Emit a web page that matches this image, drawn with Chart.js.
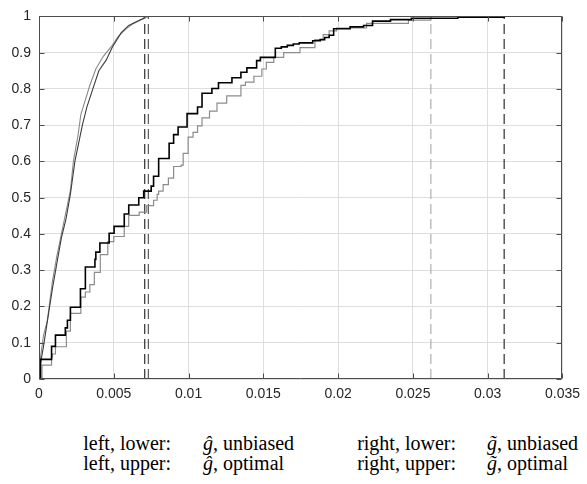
<!DOCTYPE html>
<html>
<head>
<meta charset="utf-8">
<script src="https://cdn.jsdelivr.net/npm/chart.js@4.4.1/dist/chart.umd.min.js"></script>
<style>
  body { margin: 0; background: #fff; }
  #wrap { position: relative; width: 587px; height: 484px; }
  #legend { position: absolute; left: 0; top: 433px; width: 587px;
            font-family: 'Liberation Serif', 'Times New Roman', serif; font-size: 20px; color: #000; }
  .row { position: relative; height: 20px; line-height: 20px; }
  .row span { position: absolute; white-space: nowrap; }
</style>
</head>
<body>
<div id="wrap">
  <canvas id="cdf" width="587" height="410"></canvas>
  <div id="legend"></div>
</div>
<script>
//------------------------------------------------------
// DATA
//------------------------------------------------------

// left pair (steep curves)
const leftDarkX  = [0, 0.00005, 0.0003, 0.0006, 0.0009, 0.0012, 0.0015, 0.0018, 0.0021, 0.0024, 0.0027, 0.0029, 0.0032, 0.0036, 0.0040, 0.0045, 0.0049, 0.0052, 0.0055, 0.0060, 0.0065, 0.0070, 0.00707];
const leftDarkY  = [0, 0.03,    0.09,   0.17,   0.25,   0.32,   0.39,   0.44,   0.51,   0.60,   0.66,   0.70,   0.75,   0.80,   0.85,   0.88,   0.915,  0.935,  0.955,  0.975,  0.985,  0.995,  1];
const leftLightX = [0, 0.0001, 0.0003, 0.00055, 0.0009, 0.0012, 0.0015, 0.0018, 0.0021, 0.0023, 0.0026, 0.0028, 0.0031, 0.0034, 0.0038, 0.0043, 0.0049, 0.0053, 0.0058, 0.0063, 0.0068, 0.0073];
const leftLightY = [0, 0.06,   0.12,   0.16,    0.27,   0.34,   0.40,   0.46,   0.52,   0.60,   0.67,   0.73,   0.77,   0.81,   0.855,  0.89,   0.92,   0.945,  0.965,  0.98,   0.99,   1];

// right pair (step curves)
const rightBlackX = [0, 0.0001, 0.00084, 0.0011, 0.00176, 0.0019, 0.0021, 0.00277, 0.0031, 0.00374, 0.0038, 0.00407, 0.00469, 0.00502, 0.0057, 0.0060, 0.00667, 0.0070, 0.0075, 0.00766, 0.0080, 0.0087, 0.0090, 0.0093, 0.0099, 0.0106, 0.0109, 0.01156, 0.0120, 0.0129, 0.0135, 0.0139, 0.01455, 0.0148, 0.0158, 0.0162, 0.0166, 0.0170, 0.0174, 0.0183, 0.0188, 0.0191, 0.0194, 0.0197, 0.0208, 0.0217, 0.0223, 0.0235, 0.0249, 0.0280, 0.0311];
const rightBlackY = [0, 0.054,  0.09,    0.121,  0.141,   0.162,  0.198,  0.249,   0.309,  0.33,    0.35,   0.375,   0.402,   0.421,   0.455,  0.48,   0.50,    0.518,  0.532,  0.559,   0.608,  0.650,  0.674,  0.695,  0.732,  0.75,   0.788,  0.801,   0.817,  0.831,  0.846,  0.858,  0.878,   0.887,  0.912,  0.916,  0.920,  0.924,  0.927,  0.933,  0.936,  0.942,  0.948,  0.966,  0.971,  0.975,  0.987,  0.991,  0.995,  0.998,  1];
const rightGrayX  = [0, 0.0002, 0.00084, 0.0009, 0.0011, 0.00183, 0.0021, 0.0028, 0.0031, 0.0034, 0.0037, 0.0041, 0.0046, 0.0050, 0.0057, 0.0060, 0.0067, 0.0072, 0.00766, 0.0079, 0.0080, 0.0083, 0.00865, 0.0090, 0.0095, 0.00964, 0.00997, 0.0103, 0.0106, 0.0109, 0.0114, 0.0119, 0.01255, 0.0135, 0.0138, 0.01437, 0.0149, 0.0152, 0.0157, 0.01636, 0.01745, 0.01845, 0.0190, 0.0194, 0.0199, 0.0219, 0.0247, 0.0262];
const rightGrayY  = [0, 0.038,  0.06,    0.069,  0.089,  0.132,   0.181,  0.226,  0.24,   0.26,   0.294,  0.343,  0.379,  0.393,  0.421,  0.451,  0.46,   0.478,  0.493,   0.509,  0.518,  0.536,  0.554,   0.586,  0.59,   0.622,   0.667,   0.68,   0.698,  0.72,   0.739,  0.761,  0.781,   0.81,   0.819,  0.835,   0.855,  0.873,  0.887,  0.90,    0.914,   0.936,   0.95,   0.96,   0.968,  0.981,  0.99,   1];

// vertical dashed markers (max of each curve)
const markerX      = [0.00707, 0.00731, 0.0262, 0.0311];
const markerColors = ['#1a1a1a', '#4a4a4a', '#a8a8a8', '#1a1a1a'];

// bottom annotation table
const legendRows = [
  ['left, lower:', '\u011D', ', unbiased', 'right, lower:', 'g\u0303', ', unbiased'],
  ['left, upper:', '\u011D', ', optimal',  'right, upper:', 'g\u0303', ', optimal']
];

//------------------------------------------------------
// CHART
//------------------------------------------------------

const pts = (xs, ys) => xs.map((x, i) => ({ x: x, y: ys[i] }));

const lineSet = (xs, ys, color, width, stepped) => ({
  data: pts(xs, ys),
  borderColor: color,
  borderWidth: width,
  pointRadius: 0,
  fill: false,
  stepped: stepped,
  tension: 0
});

const markerSets = markerX.map((x, i) => ({
  data: [{ x: x, y: 0 }, { x: x, y: 1 }],
  borderColor: markerColors[i],
  borderWidth: 1.1,
  borderDash: [10, 5],
  pointRadius: 0,
  fill: false
}));

// matlab style box with inward ticks
const boxPlugin = {
  id: 'box',
  afterDatasetsDraw(chart) {
    const { ctx, chartArea: a, scales } = chart;
    const L = Math.round(a.left) + 0.5, R = Math.round(a.right) - 0.5;
    const T = Math.round(a.top) + 0.5, B = Math.round(a.bottom) - 0.5;
    ctx.save();
    ctx.strokeStyle = '#4d4d4d';
    ctx.lineWidth = 1;
    ctx.beginPath();
    ctx.rect(L, T, R - L, B - T);
    scales.x.ticks.forEach(t => {
      const px = Math.round(scales.x.getPixelForValue(t.value)) + 0.5;
      ctx.moveTo(px, B); ctx.lineTo(px, B - 5);
      ctx.moveTo(px, T); ctx.lineTo(px, T + 5);
    });
    scales.y.ticks.forEach(t => {
      const py = Math.round(scales.y.getPixelForValue(t.value)) + 0.5;
      ctx.moveTo(L, py); ctx.lineTo(L + 5, py);
      ctx.moveTo(R, py); ctx.lineTo(R - 5, py);
    });
    ctx.stroke();
    ctx.restore();
  }
};

Chart.defaults.font.family = "'Liberation Sans', Arial, sans-serif";
Chart.defaults.font.size = 14;
Chart.defaults.color = '#262626';

new Chart(document.getElementById('cdf').getContext('2d'), {
  type: 'line',
  data: {
    datasets: [
      lineSet(rightBlackX, rightBlackY, '#000000', 1.6, true),
      lineSet(rightGrayX, rightGrayY, '#8c8c8c', 1.2, true),
      lineSet(leftDarkX, leftDarkY, '#3d3d3d', 1.1, false),
      lineSet(leftLightX, leftLightY, '#8a8a8a', 1.1, false)
    ].concat(markerSets)
  },
  options: {
    responsive: false,
    animation: false,
    layout: { padding: { left: 0, right: 18, top: 7, bottom: 0 } },
    plugins: { legend: { display: false }, tooltip: { enabled: false } },
    scales: {
      x: {
        type: 'linear', min: 0, max: 0.035,
        afterFit: s => { s.height = 31; },
        border: { display: false },
        grid: { color: '#dedede', drawTicks: false },
        ticks: { stepSize: 0.005, padding: 7, maxRotation: 0,
                 callback: v => String(+v.toFixed(3)) }
      },
      y: {
        min: 0, max: 1,
        afterFit: s => { s.width = 39; },
        border: { display: false },
        grid: { color: '#dedede', drawTicks: false },
        ticks: { stepSize: 0.1, padding: 8,
                 callback: v => String(+v.toFixed(1)) }
      }
    }
  },
  plugins: [boxPlugin]
});

//------------------------------------------------------
// BOTTOM TEXT
//------------------------------------------------------
const legendEl = document.getElementById('legend');
legendRows.forEach(r => {
  const row = document.createElement('div');
  row.className = 'row';
  row.innerHTML =
    '<span style="right:' + (587 - 171) + 'px">' + r[0] + '</span>' +
    '<span style="left:203px"><i>' + r[1] + '</i>' + r[2] + '</span>' +
    '<span style="right:' + (587 - 456) + 'px">' + r[3] + '</span>' +
    '<span style="left:487px"><i>' + r[4] + '</i>' + r[5] + '</span>';
  legendEl.appendChild(row);
});
</script>
</body>
</html>
